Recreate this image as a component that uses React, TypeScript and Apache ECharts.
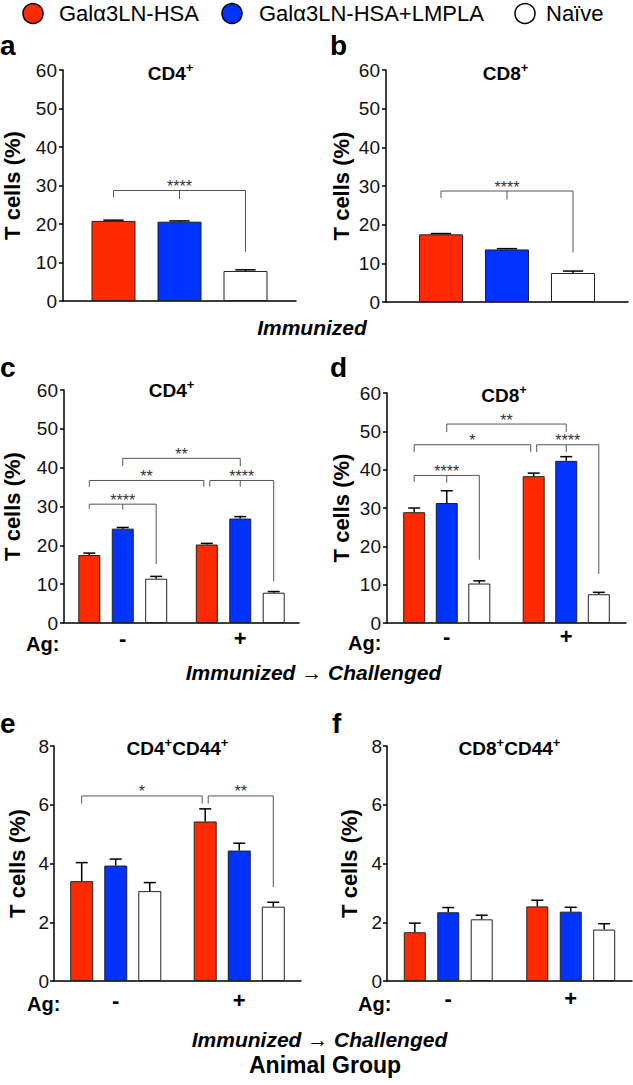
import React, { useEffect, useRef } from "react";
import * as echarts from "echarts";

const FONT = "'Liberation Sans', Arial, Helvetica, sans-serif";

// ---------- data ----------
const groups = ["Galα3LN-HSA", "Galα3LN-HSA+LMPLA", "Naïve"];
const groupColors = ["#FF2A00", "#0033FF", "#FFFFFF"];
const immunizedCats = [""];
const agCats = ["-", "+"];
const yName = "T cells (%)";

// rows = group (red, blue, white), columns = category
const aMean = [[20.8], [20.6], [7.8]];
const aSem = [[0.2], [0.2], [0.3]];
const bMean = [[17.5], [13.6], [7.5]];
const bSem = [[0.2], [0.2], [0.5]];
const cMean = [[17.5, 20.2], [24.3, 26.9], [11.4, 7.8]];
const cSem = [[0.5, 0.3], [0.3, 0.5], [0.6, 0.3]];
const dMean = [[28.9, 38.3], [31.3, 42.3], [10.3, 7.5]];
const dSem = [[1.1, 0.8], [3.2, 1.1], [0.7, 0.5]];
const eMean = [[3.4, 5.43], [3.93, 4.44], [3.06, 2.53]];
const eSem = [[0.63, 0.43], [0.22, 0.25], [0.29, 0.15]];
const fMean = [[1.66, 2.54], [2.34, 2.36], [2.1, 1.75]];
const fSem = [[0.31, 0.21], [0.16, 0.15], [0.14, 0.2]];

// significance brackets: from/to = [category, group, side], side -1 left / 0 centre / 1 right of bar centre
type Bracket = {
  from: number[];
  to: number[];
  y: number;
  yFrom: number;
  yTo: number;
  mid?: number[];
  yMid?: number;
  label: string;
};
const aBrackets: Bracket[] = [
  { from: [0, 0, 0], to: [0, 2, 0], y: 28.7, yFrom: 26.9, yTo: 12.8, mid: [0, 1], yMid: 26.5, label: "****" },
];
const bBrackets: Bracket[] = [
  { from: [0, 0, 0], to: [0, 2, 0], y: 28.7, yFrom: 26.9, yTo: 12.8, mid: [0, 1], yMid: 26.5, label: "****" },
];
const cBrackets: Bracket[] = [
  { from: [0, 0, 0], to: [0, 2, 0], y: 30.6, yFrom: 29.4, yTo: 15.2, mid: [0, 1], yMid: 29.2, label: "****" },
  { from: [0, 0, 0], to: [1, 0, -1], y: 36.7, yFrom: 35.1, yTo: 35.1, label: "**" },
  { from: [1, 0, 1], to: [1, 2, 0], y: 36.7, yFrom: 35.1, yTo: 10.7, mid: [1, 1], yMid: 35.1, label: "****" },
  { from: [0, 1, 0], to: [1, 1, 0], y: 42.4, yFrom: 40.4, yTo: 40.4, label: "**" },
];
const dBrackets: Bracket[] = [
  { from: [0, 0, 0], to: [0, 2, 0], y: 38.5, yFrom: 36.8, yTo: 16.5, mid: [0, 1], yMid: 36.6, label: "****" },
  { from: [0, 0, 0], to: [1, 0, -1], y: 46.5, yFrom: 44.6, yTo: 44.6, label: "*" },
  { from: [1, 0, 1], to: [1, 2, 0], y: 46.5, yFrom: 44.6, yTo: 12.8, mid: [1, 1], yMid: 44.6, label: "****" },
  { from: [0, 1, 0], to: [1, 1, 0], y: 51.9, yFrom: 49.8, yTo: 49.8, label: "**" },
];
const eBrackets: Bracket[] = [
  { from: [0, 0, 0], to: [1, 0, -1], y: 6.3, yFrom: 6.04, yTo: 6.04, label: "*" },
  { from: [1, 0, 1], to: [1, 2, 0], y: 6.3, yFrom: 6.04, yTo: 3.2, label: "**" },
];
const fBrackets: Bracket[] = [];

// ---------- layout / style ----------
type Panel = {
  letter: string;
  title: string[];
  cats: string[];
  mean: number[][];
  sem: number[][];
  brackets: Bracket[];
  yMax: number;
  yInterval: number;
  grid: { left: number; top: number; width: number; height: number };
  barWidth: number;
  barGap: number;
  nameGap: number;
  labelMargin: number;
  xLabelMargin: number;
  titlePos: number[];
  letterPos: number[];
  agPos: number[] | null;
};

const panels: Panel[] = [
  {
    letter: "a", title: ["CD4", "+"], cats: immunizedCats, mean: aMean, sem: aSem, brackets: aBrackets,
    yMax: 60, yInterval: 10, grid: { left: 53, top: 70, width: 243, height: 231 },
    barWidth: 44, barGap: 0.5, nameGap: 40, labelMargin: 6, xLabelMargin: 8,
    titlePos: [170.5, 73.5], letterPos: [0, 45], agPos: null,
  },
  {
    letter: "b", title: ["CD8", "+"], cats: immunizedCats, mean: bMean, sem: bSem, brackets: bBrackets,
    yMax: 60, yInterval: 10, grid: { left: 386, top: 70, width: 242, height: 232 },
    barWidth: 44, barGap: 0.5, nameGap: 34, labelMargin: 6, xLabelMargin: 8,
    titlePos: [505.5, 73.5], letterPos: [330, 45], agPos: null,
  },
  {
    letter: "c", title: ["CD4", "+"], cats: agCats, mean: cMean, sem: cSem, brackets: cBrackets,
    yMax: 60, yInterval: 10, grid: { left: 54, top: 390, width: 245, height: 233 },
    barWidth: 22, barGap: 0.52, nameGap: 41, labelMargin: 6, xLabelMargin: 7,
    titlePos: [171.5, 390.5], letterPos: [0, 367], agPos: [26, 644],
  },
  {
    letter: "d", title: ["CD8", "+"], cats: agCats, mean: dMean, sem: dSem, brackets: dBrackets,
    yMax: 60, yInterval: 10, grid: { left: 387, top: 393, width: 239, height: 230 },
    barWidth: 22, barGap: 0.48, nameGap: 35, labelMargin: 6, xLabelMargin: 5,
    titlePos: [504, 395], letterPos: [330, 367], agPos: [348, 643],
  },
  {
    letter: "e", title: ["CD4", "+", "CD44", "+"], cats: agCats, mean: eMean, sem: eSem, brackets: eBrackets,
    yMax: 8, yInterval: 2, grid: { left: 54, top: 746, width: 247, height: 235 },
    barWidth: 23, barGap: 0.48, nameGap: 26, labelMargin: 5, xLabelMargin: 11,
    titlePos: [177.5, 748.5], letterPos: [0, 723], agPos: [27, 1004],
  },
  {
    letter: "f", title: ["CD8", "+", "CD44", "+"], cats: agCats, mean: fMean, sem: fSem, brackets: fBrackets,
    yMax: 8, yInterval: 2, grid: { left: 387, top: 746, width: 245, height: 235 },
    barWidth: 22, barGap: 0.52, nameGap: 27, labelMargin: 5, xLabelMargin: 9,
    titlePos: [509.5, 748.5], letterPos: [332, 723], agPos: [358, 1004],
  },
];

const legendCircles = [[33, 13.5], [232, 13.5], [525, 13.5]];
const legendTextX = [59, 259, 546];

const TITLE_FONT = `bold 19px ${FONT}`;
const SUP_FONT = `bold 13px ${FONT}`;

let measureCtx: CanvasRenderingContext2D | null = null;
function measure(text: string, font: string): number {
  if (!measureCtx) measureCtx = document.createElement("canvas").getContext("2d");
  if (!measureCtx) return text.length * 10;
  measureCtx.font = font;
  return measureCtx.measureText(text).width;
}

function buildOption() {
  const series: any[] = [];
  panels.forEach((p, i) => {
    const step = p.barWidth * (1 + p.barGap);
    groups.forEach((g, s) => {
      series.push({
        type: "bar",
        name: g,
        xAxisIndex: i,
        yAxisIndex: i,
        data: p.mean[s],
        barWidth: p.barWidth,
        barGap: `${Math.round(p.barGap * 100)}%`,
        itemStyle: { color: groupColors[s], borderColor: "#222", borderWidth: 1 },
        z: 2,
      });
    });
    // error bars (mean + SEM)
    const errData: number[][] = [];
    groups.forEach((_, s) => {
      p.cats.forEach((_c, c) => {
        errData.push([c, p.mean[s][c], p.sem[s][c], s]);
      });
    });
    const half = Math.max(6, p.barWidth * 0.23);
    series.push({
      type: "custom",
      name: `err-${p.letter}`,
      xAxisIndex: i,
      yAxisIndex: i,
      encode: { x: 0, y: 1 },
      data: errData,
      z: 3,
      renderItem: (_params: any, api: any) => {
        const c = api.value(0);
        const m = api.value(1);
        const e = api.value(2);
        const s = api.value(3);
        const base = api.coord([c, m]);
        const top = api.coord([c, m + e]);
        const x = base[0] + (s - 1) * step;
        const st = { stroke: "#000", lineWidth: 1.5 };
        return {
          type: "group",
          children: [
            { type: "line", shape: { x1: x, y1: base[1], x2: x, y2: top[1] }, style: st },
            { type: "line", shape: { x1: x - half, y1: top[1], x2: x + half, y2: top[1] }, style: st },
          ],
        };
      },
    });
    // significance brackets
    if (p.brackets.length) {
      series.push({
        type: "custom",
        name: `sig-${p.letter}`,
        xAxisIndex: i,
        yAxisIndex: i,
        encode: { x: 0, y: 1 },
        data: p.brackets.map((b) => [b.from[0], b.y]),
        z: 4,
        renderItem: (params: any, api: any) => {
          const b = p.brackets[params.dataIndex];
          const px = (cat: number, s: number, side: number) =>
            api.coord([cat, 0])[0] + (s - 1) * step + side * 3;
          const py = (v: number) => api.coord([0, v])[1];
          const x1 = px(b.from[0], b.from[1], b.from[2] || 0);
          const x2 = px(b.to[0], b.to[1], b.to[2] || 0);
          const yl = py(b.y);
          const st = { stroke: "#555", lineWidth: 1, fill: "none" };
          const children: any[] = [
            {
              type: "polyline",
              shape: { points: [[x1, py(b.yFrom)], [x1, yl], [x2, yl], [x2, py(b.yTo)]] },
              style: st,
            },
            {
              type: "text",
              style: {
                text: b.label,
                x: (x1 + x2) / 2,
                y: yl - 4,
                align: "center",
                verticalAlign: "middle",
                fontSize: 16,
                fontFamily: FONT,
                fill: "#333",
              },
            },
          ];
          if (b.mid) {
            const xm = px(b.mid[0], b.mid[1], 0);
            children.push({
              type: "line",
              shape: { x1: xm, y1: yl, x2: xm, y2: py(b.yMid as number) },
              style: st,
            });
          }
          return { type: "group", children };
        },
      });
    }
  });

  const graphic: any[] = [];
  const txt = (
    text: string,
    x: number,
    y: number,
    size: number,
    weight: string,
    style: string,
    align = "center",
    lineHeight?: number
  ) => ({
    type: "text",
    x,
    y,
    style: {
      text,
      font: `${style} ${weight} ${size}px ${FONT}`,
      fontSize: size,
      fontWeight: weight,
      fontStyle: style,
      fontFamily: FONT,
      lineHeight: lineHeight || size,
      fill: "#000",
      align,
      verticalAlign: "middle",
    },
  });

  // legend (drawn)
  groups.forEach((g, s) => {
    graphic.push({
      type: "circle",
      shape: { cx: legendCircles[s][0], cy: legendCircles[s][1], r: 10 },
      style: { fill: groupColors[s], stroke: "#000", lineWidth: 1.5 },
    });
    graphic.push(txt(g, legendTextX[s], 13, 22, "normal", "normal", "left"));
  });

  panels.forEach((p) => {
    graphic.push(txt(p.letter, p.letterPos[0], p.letterPos[1], 28, "bold", "normal", "left"));
    if (p.agPos) graphic.push(txt("Ag:", p.agPos[0], p.agPos[1], 20, "bold", "normal", "left", 15));
    // title: main parts + superscripts laid out side by side
    const widths = p.title.map((t, k) => measure(t, k % 2 === 0 ? TITLE_FONT : SUP_FONT));
    const total = widths.reduce((a, b) => a + b, 0);
    let x = p.titlePos[0] - total / 2;
    p.title.forEach((t, k) => {
      if (k % 2 === 0) {
        graphic.push(txt(t, x, p.titlePos[1], 19, "bold", "normal", "left"));
      } else {
        graphic.push(txt(t, x, p.titlePos[1] - 6, 13, "bold", "normal", "left"));
      }
      x += widths[k];
    });
  });
  graphic.push(txt("Immunized", 312, 327.5, 21, "bold", "italic"));
  graphic.push(txt("Immunized → Challenged", 313.5, 672.5, 21, "bold", "italic"));
  graphic.push(txt("Immunized → Challenged", 319.5, 1039, 21, "bold", "italic"));
  graphic.push(txt("Animal Group", 325, 1065, 23, "bold", "normal"));

  return {
    animation: false,
    backgroundColor: "#fff",
    textStyle: { fontFamily: FONT },
    grid: panels.map((p) => ({ ...p.grid, containLabel: false })),
    xAxis: panels.map((p, i) => ({
      type: "category",
      gridIndex: i,
      data: p.cats,
      axisLine: { lineStyle: { color: "#000", width: 1.5 } },
      axisTick: { show: false },
      axisLabel: {
        show: p.cats.length > 1,
        fontSize: 22,
        fontWeight: "bold",
        color: "#000",
        margin: p.xLabelMargin,
        fontFamily: FONT,
        lineHeight: 16,
      },
    })),
    yAxis: panels.map((p, i) => ({
      type: "value",
      gridIndex: i,
      min: 0,
      max: p.yMax,
      interval: p.yInterval,
      name: yName,
      nameLocation: "middle",
      nameGap: p.nameGap,
      nameTextStyle: { fontSize: 22, fontWeight: "bold", color: "#000", fontFamily: FONT },
      axisLine: { show: true, lineStyle: { color: "#000", width: 1.5 } },
      axisTick: { show: true, length: 4, lineStyle: { color: "#000", width: 1.5 } },
      axisLabel: { fontSize: 19, color: "#111", margin: p.labelMargin, fontFamily: FONT, lineHeight: 15 },
      splitLine: { show: false },
    })),
    series,
    graphic,
  };
}

export default function App() {
  const ref = useRef<HTMLDivElement>(null);
  useEffect(() => {
    document.body.style.margin = "0";
    if (!ref.current) return;
    const chart = echarts.init(ref.current, undefined, { renderer: "svg" });
    chart.setOption(buildOption() as any);
    return () => chart.dispose();
  }, []);
  return <div ref={ref} style={{ width: 633, height: 1085 }} />;
}
